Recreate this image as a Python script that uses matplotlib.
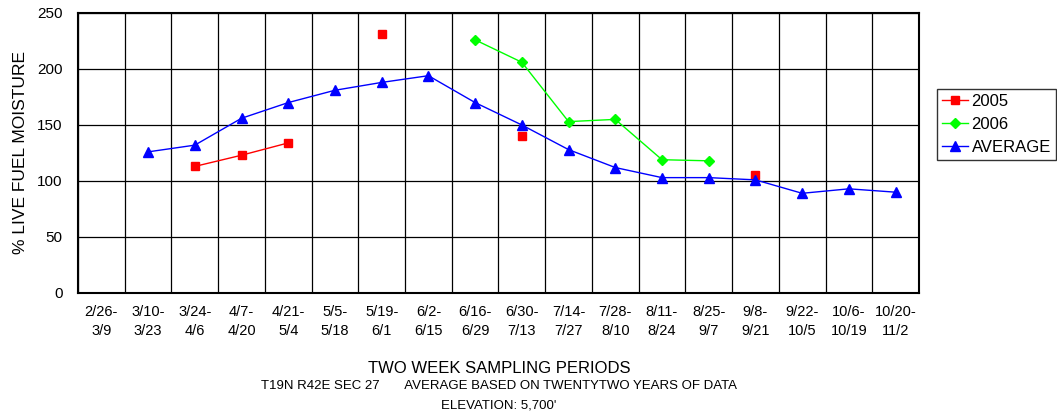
import numpy as np
import matplotlib
matplotlib.use("Agg")
import matplotlib.pyplot as plt
from matplotlib.ticker import MultipleLocator

plt.rcParams["font.family"] = ["Liberation Sans", "DejaVu Sans"]

periods = ["2/26-\n3/9", "3/10-\n3/23", "3/24-\n4/6", "4/7-\n4/20", "4/21-\n5/4",
           "5/5-\n5/18", "5/19-\n6/1", "6/2-\n6/15", "6/16-\n6/29", "6/30-\n7/13",
           "7/14-\n7/27", "7/28-\n8/10", "8/11-\n8/24", "8/25-\n9/7", "9/8-\n9/21",
           "9/22-\n10/5", "10/6-\n10/19", "10/20-\n11/2"]

nan = np.nan
moist_2005 = [nan, nan, 113, 123, 134, nan, 231, nan, nan, 140,
              nan, nan, nan, nan, 105, nan, nan, nan]
moist_2006 = [nan, nan, nan, nan, nan, nan, nan, nan, 226, 206,
              153, 155, 119, 118, nan, nan, nan, nan]
moist_avg = [nan, 126, 132, 156, 170, 181, 188, 194, 170, 150,
             128, 112, 103, 103, 101, 89, 93, 90]

x = np.arange(len(periods))

fig = plt.figure(figsize=(10.57, 4.16), dpi=100)
ax = fig.add_axes([0.0738, 0.2957, 0.7956, 0.6731])

l1, = ax.plot(x, moist_2005, color="#FF0000", marker="s", markersize=6, linewidth=1, label="2005")
l2, = ax.plot(x, moist_2006, color="#00FF00", marker="D", markersize=5, linewidth=1, label="2006")
l3, = ax.plot(x, moist_avg, color="#0000FF", marker="^", markersize=7, linewidth=1, label="AVERAGE")

ax.set_xlim(-0.5, len(periods) - 0.5)
ax.set_ylim(0, 250)
ax.yaxis.set_major_locator(MultipleLocator(50))
ax.set_xticks(x)
ax.set_xticklabels(periods, fontsize=10.5, linespacing=1.45)
ax.set_xticks(np.arange(-0.5, len(periods), 1), minor=True)
ax.tick_params(axis="x", which="both", length=0, pad=9)
ax.tick_params(axis="y", length=0, labelsize=11, pad=11)
ax.grid(True, axis="y", color="black", linewidth=0.9)
ax.grid(True, axis="x", which="minor", color="black", linewidth=0.9)
ax.grid(False, axis="x", which="major")
for s in ax.spines.values():
    s.set_linewidth(1.5)
    s.set_color("black")

ax.set_ylabel("% LIVE FUEL MOISTURE", fontsize=12.5, labelpad=7)

fig.text(0.472, 0.115, "TWO WEEK SAMPLING PERIODS", ha="center", va="center", fontsize=12)
fig.text(0.472, 0.072, "T19N R42E SEC 27       AVERAGE BASED ON TWENTYTWO YEARS OF DATA",
         ha="center", va="center", fontsize=9.5)
fig.text(0.472, 0.026, "ELEVATION: 5,700'", ha="center", va="center", fontsize=9.5)

leg = fig.legend(handles=[l1, l2, l3], loc="upper left", bbox_to_anchor=(0.886, 0.787),
                 fontsize=12, frameon=True, fancybox=False, borderpad=0.3,
                 handlelength=1.6, handletextpad=0.2, labelspacing=0.5, borderaxespad=0)
leg.get_frame().set_edgecolor("black")
leg.get_frame().set_linewidth(1)

fig.savefig("out.png", dpi=100)
